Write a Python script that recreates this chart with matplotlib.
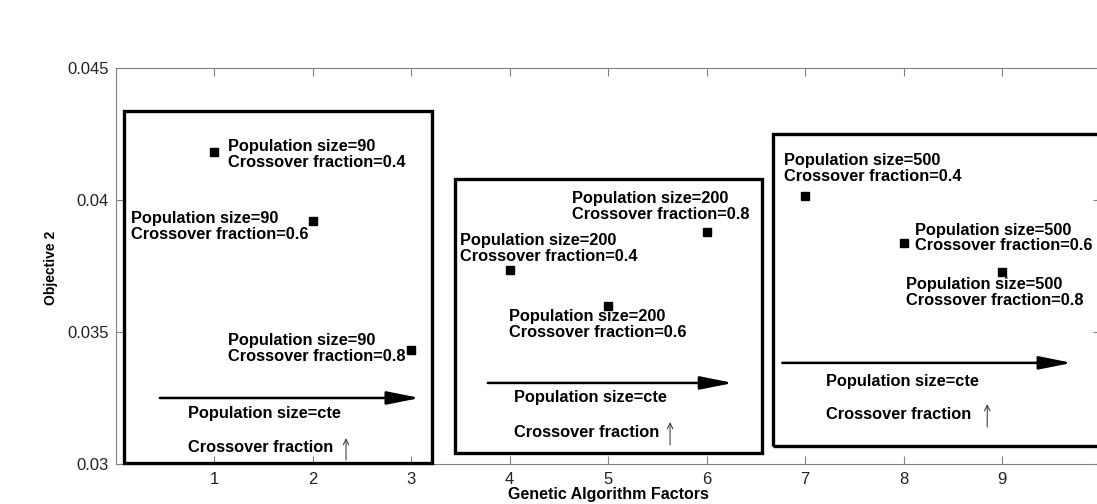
import numpy as np
import matplotlib
matplotlib.use("Agg")
import matplotlib.pyplot as plt
from matplotlib.patches import Rectangle

plt.rcParams['font.family'] = ['Liberation Sans', 'DejaVu Sans']

# donnees
factors = [1, 2, 3, 4, 5, 6, 7, 8, 9]
objective2 = [0.04182, 0.0392, 0.03432, 0.03735, 0.03598, 0.03879, 0.04015, 0.03837, 0.03727]
pop_sizes = [90, 90, 90, 200, 200, 200, 500, 500, 500]
cross_frac = [0.4, 0.6, 0.8, 0.4, 0.6, 0.8, 0.4, 0.6, 0.8]
# position (coin gauche, centre vertical) de chaque etiquette
label_x = [1.142, 0.157, 1.142, 3.497, 3.995, 4.635, 6.787, 8.117, 8.025]
label_y = [0.04174, 0.03898, 0.03436, 0.03818, 0.03527, 0.03974, 0.04121, 0.03856, 0.03648]

# cadres des trois groupes : x0, x1, y0, y1
boxes = [(0.086, 3.21, 0.03004, 0.04337),
         (3.45, 6.56, 0.03042, 0.0408),
         (6.68, 10.3, 0.03068, 0.0425)]
# fleches horizontales (population constante)
h_arrows = [(0.45, 3.09, 0.0325), (3.78, 6.27, 0.03307), (6.77, 9.71, 0.03383)]
# petites fleches verticales (crossover croissant)
v_arrows = [(2.34, 0.03015, 0.03098), (5.63, 0.03072, 0.03159), (8.85, 0.0314, 0.03227)]
cte_x = [0.736, 4.046, 7.213]
cte_y_pop = [0.03193, 0.0325, 0.03314]
cte_y_cross = [0.03061, 0.03121, 0.03189]

fig = plt.figure(figsize=(10.97, 5.04), dpi=100)
ax = fig.add_axes([0.1053, 0.0794, 0.8979, 0.7857])
ax.set_xlim(0, 10)
ax.set_ylim(0.03, 0.045)

for s in ax.spines.values():
    s.set_color('#808080')
    s.set_linewidth(0.8)
ax.set_xticks(range(1, 10))
ax.set_yticks([0.03, 0.035, 0.04, 0.045])
ax.set_yticklabels(['0.03', '0.035', '0.04', '0.045'])
ax.tick_params(direction='in', length=6, color='#808080', labelsize=12,
               labelcolor='#222222', top=True, right=True, pad=5)
ax.tick_params(axis='x', pad=6)

ax.plot(factors, objective2, 's', color='black', markersize=6, zorder=5)

fs = 11.8
for i in range(len(factors)):
    txt = f"Population size={pop_sizes[i]}\nCrossover fraction={cross_frac[i]}"
    ax.text(label_x[i], label_y[i], txt, fontsize=fs, fontweight='bold',
            ha='left', va='center', linespacing=1.08, clip_on=False)

for (x0, x1, y0, y1) in boxes:
    ax.add_patch(Rectangle((x0, y0), x1 - x0, y1 - y0, fill=False,
                           edgecolor='black', linewidth=2.4, clip_on=False, zorder=3))

for (x0, x1, y) in h_arrows:
    ax.annotate('', xy=(x1, y), xytext=(x0, y),
                arrowprops=dict(arrowstyle='-|>,head_length=2.0,head_width=0.4',
                                color='black', lw=1.8, shrinkA=0, shrinkB=0))

for (x, y0, y1) in v_arrows:
    ax.annotate('', xy=(x, y1), xytext=(x, y0),
                arrowprops=dict(arrowstyle='->,head_length=0.4,head_width=0.2',
                                color='#444444', lw=0.8, shrinkA=0, shrinkB=0))

for i in range(3):
    ax.text(cte_x[i], cte_y_pop[i], "Population size=cte", fontsize=fs,
            fontweight='bold', ha='left', va='center')
    ax.text(cte_x[i], cte_y_cross[i], "Crossover fraction", fontsize=fs,
            fontweight='bold', ha='left', va='center')

fig.text(608 / 1097, 1 - 494 / 504, "Genetic Algorithm Factors", fontsize=11.5,
         fontweight='bold', ha='center', va='center')
fig.text(51 / 1097, 1 - 268 / 504, "Objective 2", fontsize=10,
         fontweight='bold', ha='center', va='center', rotation=90)

fig.savefig("out.png", dpi=100)
